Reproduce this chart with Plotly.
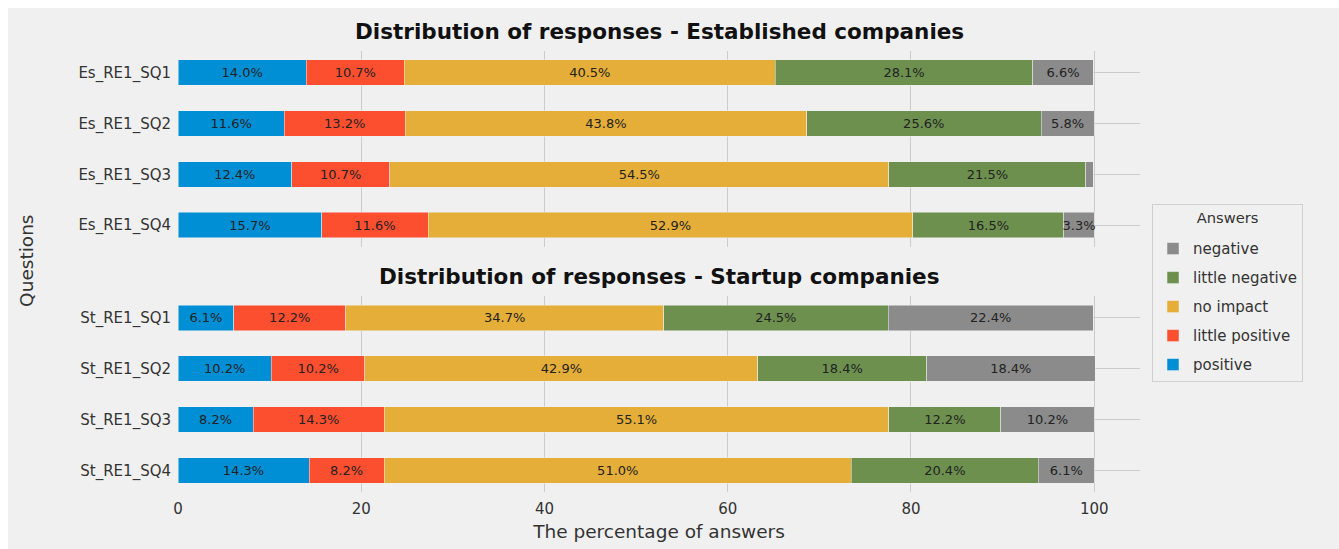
import plotly.graph_objects as go
from plotly.subplots import make_subplots

answers = ["positive", "little positive", "no impact", "little negative", "negative"]
colors = ["#008fd5", "#fc4f30", "#e5ae38", "#6d904f", "#8b8b8b"]

es_questions = ["Es_RE1_SQ1", "Es_RE1_SQ2", "Es_RE1_SQ3", "Es_RE1_SQ4"]
es_positive = [14.0, 11.6, 12.4, 15.7]
es_little_positive = [10.7, 13.2, 10.7, 11.6]
es_no_impact = [40.5, 43.8, 54.5, 52.9]
es_little_negative = [28.1, 25.6, 21.5, 16.5]
es_negative = [6.6, 5.8, 0.8, 3.3]

st_questions = ["St_RE1_SQ1", "St_RE1_SQ2", "St_RE1_SQ3", "St_RE1_SQ4"]
st_positive = [6.1, 10.2, 8.2, 14.3]
st_little_positive = [12.2, 10.2, 14.3, 8.2]
st_no_impact = [34.7, 42.9, 55.1, 51.0]
st_little_negative = [24.5, 18.4, 12.2, 20.4]
st_negative = [22.4, 18.4, 10.2, 6.1]

x_ticks = [0, 20, 40, 60, 80, 100]

titles = ["Distribution of responses - Established companies",
          "Distribution of responses - Startup companies"]

es_series = [es_positive, es_little_positive, es_no_impact, es_little_negative, es_negative]
st_series = [st_positive, st_little_positive, st_no_impact, st_little_negative, st_negative]

FONT = "DejaVu Sans"
BG = "#f0f0f0"
GRID = "#cbcbcb"

fig = make_subplots(rows=2, cols=1, shared_xaxes=True)

n = len(answers)
for row, (qs, series) in enumerate([(es_questions, es_series), (st_questions, st_series)], start=1):
    for i, (name, col, vals) in enumerate(zip(answers, colors, series)):
        fig.add_trace(go.Bar(
            y=qs, x=vals, orientation="h", name=name,
            marker=dict(color=col, line=dict(color=BG, width=0.5)),
            width=0.5,
            text=[f"{v:.1f}%" if v >= 2 else "" for v in vals],
            textposition="inside", insidetextanchor="middle", textangle=0,
            textfont=dict(family=FONT, size=13, color="#222222"),
            legendgroup=name, legendrank=n - i, showlegend=(row == 1),
            hoverinfo="x+y+name",
        ), row=row, col=1)

fig.update_layout(
    width=1331, height=541,
    barmode="stack",
    paper_bgcolor=BG, plot_bgcolor=BG,
    margin=dict(l=170, r=199, t=43, b=57, autoexpand=False),
    font=dict(family=FONT, color="#333333"),
    uniformtext=dict(minsize=13, mode="show"),
    legend=dict(
        x=1.0125, y=0.653, xanchor="left", yanchor="top",
        traceorder="grouped", tracegroupgap=6.5,
        bgcolor=BG, bordercolor="#d0d0d0", borderwidth=1,
        font=dict(family=FONT, size=15, color="#333333"),
        title=dict(text="<sup>Answers</sup>", side="top center",
                   font=dict(family=FONT, size=21, color="#333333")),
    ),
    showlegend=True,
)

top_dom = [0.556, 1.0]
bot_dom = [0.0, 0.444]

axis_common = dict(showgrid=True, gridcolor=GRID, gridwidth=1, zeroline=False,
                   showline=False, ticks="", automargin=False)

fig.update_xaxes(range=[0, 105], tickvals=x_ticks, **axis_common,
                 tickfont=dict(family=FONT, size=15, color="#333333"),
                 ticklabelstandoff=6)
fig.update_xaxes(showticklabels=False, row=1, col=1)
fig.update_xaxes(title=dict(text="The percentage of answers",
                            font=dict(family=FONT, size=18.5, color="#333333"),
                            standoff=8),
                 row=2, col=1)

fig.update_yaxes(**axis_common, tickfont=dict(family=FONT, size=15, color="#333333"),
                 ticklabelstandoff=6)
fig.update_yaxes(domain=top_dom, range=[3.425, -0.425], categoryorder="array",
                 categoryarray=es_questions, row=1, col=1)
fig.update_yaxes(domain=bot_dom, range=[3.425, -0.425], categoryorder="array",
                 categoryarray=st_questions, row=2, col=1)

for dom, t in zip([top_dom, bot_dom], titles):
    fig.add_annotation(text=f"<b>{t}</b>", xref="paper", yref="paper",
                       x=0.5, y=dom[1], xanchor="center", yanchor="middle",
                       yshift=20, showarrow=False,
                       font=dict(family=FONT, size=21.5, color="#111111"))

fig.add_annotation(text="Questions", xref="paper", yref="paper",
                   x=-0.157, y=0.524, xanchor="center", yanchor="middle",
                   textangle=-90, showarrow=False,
                   font=dict(family=FONT, size=18.5, color="#333333"))

fig.write_html("out.html",
               post_script="document.body.style.margin='8px 0 0 8px';document.body.style.overflow='hidden';")
